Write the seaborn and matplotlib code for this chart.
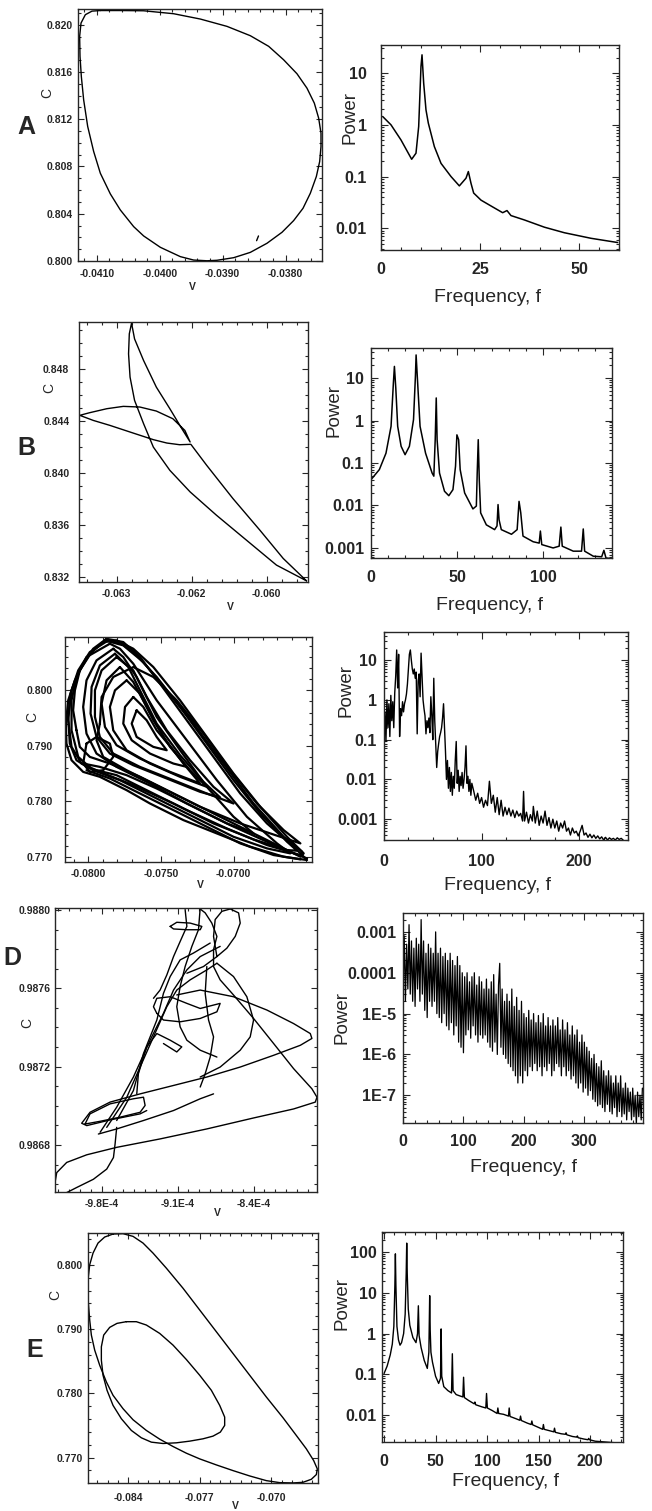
import numpy as np
import pandas as pd
import matplotlib
matplotlib.use("Agg")
import matplotlib.pyplot as plt
import matplotlib.ticker as mt
import seaborn as sns

sns.set_style("ticks")
plt.rcParams["font.family"] = ["Liberation Sans", "DejaVu Sans"]

# ---------------- DATA ----------------
# Row A : phase portrait
A_V = [-0.040945, -0.040627, -0.040256, -0.039779, -0.039355, -0.038931, -0.038560, -0.038268,
       -0.038030, -0.037818, -0.037659, -0.037542, -0.037473, -0.037436, -0.037436, -0.037457,
       -0.037510, -0.037606, -0.037722, -0.037871, -0.038056, -0.038295, -0.038560, -0.038825,
       -0.039090, -0.039249, -0.039461, -0.039673, -0.039991, -0.040256, -0.040415, -0.040627,
       -0.040786, -0.040945, -0.041051, -0.041146, -0.041210, -0.041247, -0.041268, -0.041274,
       -0.041252, -0.041183, -0.041077, -0.040945]
A_C = [0.82120, 0.82120, 0.82118, 0.82093, 0.82048, 0.81986, 0.81907, 0.81817,
       0.81703, 0.81585, 0.81463, 0.81336, 0.81209, 0.81082, 0.80969, 0.80842,
       0.80715, 0.80573, 0.80446, 0.80342, 0.80243, 0.80150, 0.80073, 0.80028,
       0.80006, 0.80002, 0.80008, 0.80037, 0.80116, 0.80212, 0.80291, 0.80432,
       0.80568, 0.80743, 0.80927, 0.81139, 0.81364, 0.81562, 0.81732, 0.81901,
       0.82014, 0.82085, 0.82115, 0.82120]
A_mark_V = [-0.03846, -0.03843]
A_mark_C = [0.80172, 0.80212]
# Row A : spectrum
A_f = [0.42, 2.52, 5.04, 7.73, 8.82, 9.50, 10.08, 10.34, 10.76, 11.34, 11.93, 13.45, 15.13, 17.65,
       19.75, 21.43, 22.02, 22.69, 23.36, 25.21, 27.73, 30.67, 31.76, 32.77, 36.13, 41.18, 46.22,
       52.94, 59.66]
A_P = [1.45, 1.0, 0.51, 0.216, 0.283, 0.93, 13.5, 22.6, 6.4, 1.95, 1.08, 0.38, 0.18, 0.10,
       0.066, 0.093, 0.125, 0.074, 0.048, 0.035, 0.027, 0.020, 0.022, 0.0176, 0.0145, 0.0105, 0.0082,
       0.0064, 0.0053]

# Row B : phase portrait
B_V = [-0.06047, -0.06078, -0.06109, -0.06145, -0.06180, -0.06201,
       -0.06216, -0.06233, -0.06251, -0.06278, -0.06309, -0.06331, -0.06349,
       -0.06336, -0.06313, -0.06291, -0.06269, -0.06247, -0.06225, -0.06209, -0.06202,
       -0.06213, -0.06229, -0.06247, -0.06264, -0.06276, -0.06280,
       -0.06283, -0.06284, -0.06282, -0.06276, -0.06264, -0.06251, -0.06229, -0.06202,
       -0.06167, -0.06127, -0.06087, -0.06047]
B_C = [0.83169, 0.83341, 0.83558, 0.83802, 0.84058, 0.84219,
       0.84216, 0.84229, 0.84255, 0.84306, 0.84365, 0.84403, 0.84442,
       0.84462, 0.84493, 0.84511, 0.84506, 0.84475, 0.84416, 0.84326, 0.84237,
       0.84339, 0.84493, 0.84659, 0.84864, 0.85030, 0.85151,
       0.85069, 0.84915, 0.84736, 0.84557, 0.84378, 0.84198, 0.84019, 0.83853,
       0.83674, 0.83482, 0.83290, 0.83169]
# Row B : spectrum
B_f = [0, 4.85, 8.7, 11.65, 13.0, 13.6, 14.4, 15.5, 17.5, 19.8, 22.3, 24.7, 25.8, 26.2, 27.0, 28.5,
       31.7, 35.5, 36.5, 37.3, 37.9, 38.4, 39.8, 42.7, 45.2, 47.6, 49.1, 49.9, 50.9, 51.8, 54.4, 59.2,
       61.2, 61.7, 62.3, 62.9, 63.7, 67.0, 71.8, 73.2, 73.8, 74.4, 75.7, 81.6, 84.9, 86.0, 87.0, 88.3,
       94.2, 97.7, 98.4, 99.2, 105.8, 109.3, 110.3, 111.1, 117.5, 122.3, 123.3, 124.1, 129.1, 134.0,
       135.3, 136.5, 139.8]
B_P = [0.0405, 0.070, 0.17, 0.73, 7.6, 18.8, 5.8, 0.73, 0.247, 0.157, 0.247, 1.05, 11, 35, 9.1, 0.73,
       0.17, 0.058, 0.049, 0.354, 3.4, 0.354, 0.058, 0.0216, 0.017, 0.0236, 0.084, 0.46, 0.354, 0.070,
       0.0197, 0.0083, 0.0097, 0.058, 0.354, 0.0405, 0.0067, 0.0035, 0.0027, 0.0033, 0.0105, 0.0046,
       0.0027, 0.0021, 0.0027, 0.0125, 0.0067, 0.0019, 0.0014, 0.0013, 0.0025, 0.0012, 0.0010, 0.0011,
       0.0031, 0.0011, 0.00084, 0.00084, 0.0028, 0.00084, 0.00064, 0.00062, 0.00088, 0.00058, 0.00056]

# Row C : chaotic attractor (loops)
C_loops_V = [
    [-0.07874, -0.07966, -0.08035, -0.08092, -0.08138, -0.08154, -0.08150, -0.08115, -0.08035, -0.07920,
     -0.07736, -0.07575, -0.07345, -0.07115, -0.06885, -0.06655, -0.06494, -0.06586, -0.06770, -0.06954,
     -0.07138, -0.07322, -0.07506, -0.07644, -0.07759, -0.07874],
    [-0.07851, -0.08012, -0.08081, -0.08115, -0.08115, -0.08069, -0.07966, -0.07782, -0.07552, -0.07276,
     -0.07000, -0.06770, -0.06609, -0.06701, -0.06908, -0.07115, -0.07322, -0.07529, -0.07690, -0.07782,
     -0.07851],
    [-0.07828, -0.07943, -0.08012, -0.08035, -0.08012, -0.07943, -0.07805, -0.07575, -0.07322, -0.07046,
     -0.06862, -0.07000, -0.07184, -0.07368, -0.07529, -0.07667, -0.07759, -0.07828],
    [-0.07805, -0.07908, -0.07954, -0.07954, -0.07920, -0.07828, -0.07644, -0.07414, -0.07184, -0.07000,
     -0.07138, -0.07299, -0.07460, -0.07598, -0.07690, -0.07805],
    [-0.07736, -0.07816, -0.07851, -0.07828, -0.07736, -0.07575, -0.07368, -0.07184, -0.07299, -0.07437,
     -0.07552, -0.07644, -0.07736],
    [-0.07690, -0.07747, -0.07759, -0.07701, -0.07575, -0.07414, -0.07322, -0.07414, -0.07529, -0.07621,
     -0.07690],
    [-0.07667, -0.07701, -0.07667, -0.07552, -0.07460, -0.07529, -0.07598, -0.07667],
    [-0.08081, -0.08058, -0.07989, -0.07851, -0.07644, -0.07414, -0.07184, -0.06954, -0.06724, -0.06540,
     -0.06517, -0.06632, -0.06816, -0.07000, -0.07184, -0.07368, -0.07552, -0.07690, -0.07805, -0.07897,
     -0.07989, -0.08058, -0.08092, -0.08104, -0.08081],
    [-0.07920, -0.07943, -0.07897, -0.07736, -0.07506, -0.07230, -0.06954, -0.06678, -0.06540, -0.06655,
     -0.06839, -0.07023, -0.07207, -0.07391, -0.07552, -0.07690, -0.07828, -0.07908, -0.07920],
    [-0.08012, -0.07943, -0.07851, -0.07828, -0.07897, -0.07989, -0.08035, -0.08012],
    [-0.07885, -0.07977, -0.08058, -0.08115, -0.08138, -0.08127, -0.08081, -0.07989, -0.07805, -0.07598,
     -0.07322, -0.07046, -0.06770, -0.06540, -0.06528, -0.06655, -0.06862, -0.07069, -0.07276, -0.07460,
     -0.07621, -0.07759, -0.07885],
    [-0.07862, -0.07989, -0.08069, -0.08122, -0.08138, -0.08115, -0.08046, -0.07920, -0.07690, -0.07414,
     -0.07138, -0.06862, -0.06632, -0.06563, -0.06632, -0.06816, -0.07000, -0.07184, -0.07368, -0.07529,
     -0.07667, -0.07770, -0.07862],
    [-0.07816, -0.07920, -0.07977, -0.07984, -0.07943, -0.07851, -0.07690, -0.07460, -0.07230, -0.07092,
     -0.07207, -0.07368, -0.07529, -0.07644, -0.07724, -0.07816],
    [-0.07782, -0.07874, -0.07908, -0.07885, -0.07805, -0.07644, -0.07437, -0.07230, -0.07345, -0.07483,
     -0.07598, -0.07690, -0.07782],
    [-0.08035, -0.07920, -0.07736, -0.07529, -0.07276, -0.07023, -0.06770, -0.06586, -0.06494],
    [-0.08012, -0.07851, -0.07644, -0.07414, -0.07184, -0.06954, -0.06724, -0.06540],
]
C_loops_C = [
    [0.80928, 0.80749, 0.80479, 0.80180, 0.79820, 0.79401, 0.79042, 0.78742, 0.78532, 0.78443,
     0.78203, 0.77963, 0.77664, 0.77424, 0.77185, 0.77005, 0.76945, 0.77185, 0.77604, 0.78143,
     0.78802, 0.79461, 0.80120, 0.80599, 0.80869, 0.80928],
    [0.80839, 0.80599, 0.80240, 0.79820, 0.79281, 0.78802, 0.78562, 0.78383, 0.78083, 0.77724,
     0.77364, 0.77155, 0.77065, 0.77245, 0.77724, 0.78383, 0.79102, 0.79820, 0.80479, 0.80749,
     0.80839],
    [0.80749, 0.80539, 0.80180, 0.79701, 0.79221, 0.78862, 0.78622, 0.78323, 0.77963, 0.77604,
     0.77424, 0.77724, 0.78263, 0.78922, 0.79521, 0.80240, 0.80599, 0.80749],
    [0.80599, 0.80359, 0.80000, 0.79521, 0.79161, 0.78862, 0.78622, 0.78383, 0.78143, 0.77963,
     0.78263, 0.78742, 0.79281, 0.79880, 0.80359, 0.80599],
    [0.80180, 0.80000, 0.79701, 0.79281, 0.78922, 0.78682, 0.78443, 0.78263, 0.78562, 0.78982,
     0.79461, 0.79940, 0.80180],
    [0.79880, 0.79701, 0.79401, 0.79102, 0.78862, 0.78682, 0.78622, 0.78922, 0.79281, 0.79701,
     0.79880],
    [0.79641, 0.79401, 0.79161, 0.78982, 0.78922, 0.79161, 0.79461, 0.79641],
    [0.79281, 0.78982, 0.78802, 0.78682, 0.78443, 0.78143, 0.77844, 0.77544, 0.77245, 0.77005,
     0.77065, 0.77364, 0.77904, 0.78502, 0.79161, 0.79820, 0.80419, 0.80749, 0.80899, 0.80869,
     0.80659, 0.80359, 0.80000, 0.79641, 0.79281],
    [0.79401, 0.79102, 0.78802, 0.78562, 0.78263, 0.77904, 0.77604, 0.77364, 0.77245, 0.77484,
     0.77963, 0.78562, 0.79221, 0.79820, 0.80240, 0.80419, 0.80240, 0.79880, 0.79401],
    [0.79042, 0.79161, 0.79042, 0.78802, 0.78562, 0.78532, 0.78682, 0.79042],
    [0.80899, 0.80689, 0.80359, 0.80000, 0.79521, 0.79042, 0.78742, 0.78592, 0.78473, 0.78203,
     0.77844, 0.77514, 0.77215, 0.77035, 0.77095, 0.77364, 0.77963, 0.78682, 0.79401, 0.80000,
     0.80509, 0.80809, 0.80899],
    [0.80899, 0.80689, 0.80359, 0.79940, 0.79461, 0.78982, 0.78682, 0.78532, 0.78293, 0.77963,
     0.77604, 0.77316, 0.77125, 0.77113, 0.77275, 0.77784, 0.78383, 0.79042, 0.79701, 0.80240,
     0.80629, 0.80839, 0.80899],
    [0.80659, 0.80449, 0.80060, 0.79581, 0.79161, 0.78862, 0.78652, 0.78413, 0.78173, 0.78071,
     0.78353, 0.78832, 0.79401, 0.80000, 0.80419, 0.80659],
    [0.80419, 0.80180, 0.79760, 0.79341, 0.79012, 0.78772, 0.78532, 0.78323, 0.78682, 0.79161,
     0.79701, 0.80150, 0.80419],
    [0.78682, 0.78622, 0.78473, 0.78233, 0.77904, 0.77574, 0.77275, 0.77065, 0.76975],
    [0.78562, 0.78413, 0.78143, 0.77844, 0.77544, 0.77245, 0.77035, 0.76957],
]
# Row C : spectrum
C_f = [0, 1, 2, 3, 4, 5, 6, 7, 8, 9, 10, 11, 12, 13, 14, 15, 16, 17, 18, 19, 20, 21, 22, 23, 24, 25,
       26, 27, 28, 29, 30, 31, 32, 33, 34, 35, 36, 37, 38, 39, 40, 41, 42, 43, 44, 45, 46, 47, 48, 49,
       50, 51, 52, 53, 54, 55, 56, 57, 58, 59, 60, 61, 62, 63, 64, 65, 66, 67, 68, 69, 70, 71, 72, 73,
       74, 75, 76, 77, 78, 79, 80, 81, 82, 83, 84, 85, 86, 87, 88, 89, 90, 92, 94, 96, 98, 100, 102,
       104, 106, 108, 110, 112, 114, 116, 118, 120, 122, 124, 126, 128, 130, 132, 134, 136, 138, 140,
       142, 143, 144, 146, 148, 150, 152, 153, 155, 157, 159, 161, 163, 165, 167, 169, 171, 173, 175,
       177, 179, 181, 183, 185, 187, 189, 191, 193, 195, 197, 199, 201, 203, 205, 207, 209, 211, 213,
       215, 217, 219, 221, 223, 225, 227, 229, 231, 233, 235, 237, 239, 241, 243, 245]
C_P = [0.15, 0.5, 0.09, 1.0, 0.2, 0.8, 0.12, 1.3, 0.3, 0.9, 0.2, 1.5, 4, 18, 2, 14, 0.12, 0.6, 0.4,
       0.9, 0.5, 0.8, 1.0, 1.4, 2.5, 6, 14, 18, 10, 6, 4.5, 6, 3.5, 5, 0.14, 3, 4.5, 1.2, 15, 4, 1.0,
       0.6, 0.4, 0.14, 0.3, 0.2, 0.35, 0.15, 1.2, 0.4, 0.1, 3.5, 0.3, 0.08, 0.02, 0.05, 0.08, 0.12,
       0.15, 0.2, 0.35, 0.8, 0.2, 0.05, 0.01, 0.03, 0.006, 0.02, 0.005, 0.015, 0.004, 0.012, 0.006,
       0.03, 0.09, 0.008, 0.017, 0.005, 0.012, 0.007, 0.015, 0.006, 0.01, 0.02, 0.07, 0.008, 0.012,
       0.005, 0.01, 0.004, 0.008, 0.005, 0.003, 0.0045, 0.0025, 0.0035, 0.002, 0.003, 0.0022, 0.009,
       0.0025, 0.004, 0.0015, 0.0035, 0.0013, 0.003, 0.0012, 0.002, 0.0013, 0.0019, 0.0012, 0.0017,
       0.0011, 0.0016, 0.0012, 0.0014, 0.0009, 0.005, 0.0009, 0.0015, 0.0008, 0.0013, 0.0009, 0.0021,
       0.0008, 0.0016, 0.0007, 0.0012, 0.0008, 0.0016, 0.0007, 0.0011, 0.0006, 0.001, 0.0006, 0.0009,
       0.0005, 0.0008, 0.0006, 0.0009, 0.0005, 0.0006, 0.0004, 0.0006, 0.00045, 0.0005, 0.00038,
       0.0005, 0.0007, 0.0004, 0.00045, 0.00035, 0.00042, 0.00034, 0.0004, 0.00033, 0.00038, 0.00032,
       0.00036, 0.0003, 0.00035, 0.0003, 0.00034, 0.00031, 0.00033, 0.0003, 0.00034, 0.00031, 0.00033,
       0.0003]

# Row D : phase portrait strokes (V, C)
D_strokes_V = [
    [-9.662e-4, -9.677e-4, -9.692e-4, -9.754e-4, -9.877e-4, -10.031e-4, -10.123e-4],
    [-10.231e-4, -10.215e-4, -10.123e-4, -9.938e-4, -9.662e-4, -9.262e-4, -8.831e-4, -8.400e-4, -8.031e-4,
     -7.831e-4, -7.815e-4, -7.862e-4, -8.031e-4, -8.215e-4, -8.400e-4, -8.585e-4, -8.708e-4, -8.769e-4,
     -8.769e-4, -8.738e-4, -8.785e-4, -8.846e-4, -8.892e-4],
    [-9.108e-4, -8.892e-4, -8.585e-4, -8.277e-4, -8.031e-4, -7.877e-4, -7.862e-4, -7.969e-4, -8.215e-4,
     -8.523e-4, -8.831e-4, -9.138e-4, -9.446e-4, -9.723e-4, -9.908e-4, -9.985e-4, -9.938e-4, -9.723e-4,
     -9.446e-4, -9.385e-4],
    [-9.954e-4, -9.908e-4, -9.723e-4, -9.508e-4, -9.415e-4, -9.400e-4, -9.446e-4, -9.631e-4, -9.815e-4,
     -9.954e-4],
    [-9.831e-4, -9.662e-4, -9.415e-4, -9.138e-4, -8.892e-4, -8.769e-4],
    [-9.815e-4, -9.662e-4, -9.508e-4, -9.354e-4, -9.231e-4, -9.138e-4, -9.015e-4, -8.892e-4, -8.769e-4,
     -8.708e-4],
    [-9.754e-4, -9.569e-4, -9.446e-4, -9.323e-4, -9.200e-4, -9.108e-4, -8.985e-4, -8.831e-4, -8.738e-4],
    [-9.662e-4, -9.508e-4, -9.415e-4, -9.292e-4, -9.231e-4, -9.169e-4, -9.077e-4, -8.954e-4, -8.800e-4],
    [-9.477e-4, -9.462e-4, -9.385e-4, -9.292e-4, -9.169e-4, -9.062e-4, -9.108e-4, -9.231e-4],
    [-9.169e-4, -9.108e-4, -8.985e-4, -8.877e-4, -8.892e-4, -9.015e-4, -9.138e-4, -9.169e-4],
    [-8.738e-4, -8.769e-4, -8.754e-4, -8.692e-4, -8.615e-4, -8.538e-4, -8.523e-4, -8.569e-4, -8.646e-4,
     -8.738e-4, -8.862e-4, -9.015e-4],
    [-9.292e-4, -9.323e-4, -9.292e-4, -9.169e-4, -9.015e-4, -8.892e-4, -8.708e-4, -8.738e-4, -8.892e-4,
     -9.077e-4, -9.231e-4, -9.292e-4],
    [-9.031e-4, -9.015e-4, -9.077e-4, -9.138e-4, -9.200e-4, -9.262e-4, -9.323e-4],
    [-8.892e-4, -8.908e-4, -8.969e-4, -9.031e-4, -9.077e-4, -9.108e-4, -9.077e-4, -9.015e-4, -8.892e-4,
     -8.738e-4],
    [-8.831e-4, -8.846e-4, -8.815e-4, -8.769e-4, -8.800e-4, -8.846e-4, -8.892e-4],
    [-8.738e-4, -8.585e-4, -8.462e-4, -8.400e-4, -8.431e-4, -8.523e-4, -8.708e-4, -8.892e-4],
]
D_strokes_C = [
    [0.986890, 0.986805, 0.986736, 0.986677, 0.986625, 0.986583, 0.986557],
    [0.986608, 0.986659, 0.986711, 0.986750, 0.986788, 0.986831, 0.986882, 0.986938, 0.986984,
     0.987019, 0.987044, 0.987087, 0.987190, 0.987318, 0.987446, 0.987566, 0.987643, 0.987711,
     0.987797, 0.987865, 0.987933, 0.987985, 0.988005],
    [0.987566, 0.987591, 0.987557, 0.987489, 0.987420, 0.987369, 0.987344, 0.987309, 0.987258,
     0.987198, 0.987147, 0.987104, 0.987061, 0.987019, 0.986967, 0.986911, 0.986899, 0.986928,
     0.986959, 0.986976],
    [0.986907, 0.986959, 0.987010, 0.987036, 0.987044, 0.987002, 0.986967, 0.986942, 0.986921,
     0.986907],
    [0.986856, 0.986882, 0.986925, 0.986976, 0.987036, 0.987061],
    [0.986865, 0.986993, 0.987147, 0.987335, 0.987472, 0.987591, 0.987694, 0.987762, 0.987797,
     0.987814],
    [0.986890, 0.987044, 0.987198, 0.987352, 0.987506, 0.987591, 0.987643, 0.987694, 0.987728],
    [0.986925, 0.987078, 0.987267, 0.987438, 0.987574, 0.987660, 0.987745, 0.987780, 0.987831],
    [0.987061, 0.987164, 0.987301, 0.987369, 0.987335, 0.987301, 0.987275, 0.987318],
    [0.987916, 0.987937, 0.987933, 0.987916, 0.987899, 0.987899, 0.987903, 0.987916],
    [0.987762, 0.987865, 0.987951, 0.987993, 0.988005, 0.987985, 0.987933, 0.987865, 0.987805,
     0.987762, 0.987711, 0.987677],
    [0.987472, 0.987506, 0.987549, 0.987557, 0.987523, 0.987497, 0.987523, 0.987480, 0.987446,
     0.987429, 0.987438, 0.987472],
    [0.988002, 0.987916, 0.987839, 0.987762, 0.987668, 0.987591, 0.987549],
    [0.988010, 0.987899, 0.987814, 0.987711, 0.987609, 0.987506, 0.987403, 0.987335, 0.987284,
     0.987249],
    [0.987711, 0.987574, 0.987438, 0.987352, 0.987249, 0.987164, 0.987096],
    [0.987728, 0.987660, 0.987557, 0.987438, 0.987352, 0.987284, 0.987198, 0.987147],
]
# Row D : spectrum (sampled every 2 frequency units)
D_f = list(range(0, 398, 2))
D_P = [3e-5, 8e-4, 2e-5, 5e-4, 4e-5, 1.5e-3, 3e-5, 6e-4, 2e-5, 4e-4, 1.5e-5, 7e-4, 4e-5, 5e-4, 2e-5,
       2e-3, 3e-5, 6e-4, 1.2e-5, 3e-4, 8e-6, 5e-4, 2e-5, 4e-4, 1.5e-5, 3e-4, 2e-5, 1e-3, 1e-5, 3e-4,
       8e-6, 4e-4, 6e-6, 2.5e-4, 1e-5, 3e-4, 5e-6, 2e-4, 4e-6, 3e-4, 6e-6, 2e-4, 3e-6, 1.5e-4, 5e-6,
       2.5e-4, 2e-6, 1.5e-4, 1.5e-6, 1e-4, 1.1e-6, 8e-5, 3e-6, 1e-4, 4e-6, 6e-5, 2.5e-6, 8e-5, 5e-6,
       1e-4, 3e-6, 5e-5, 2e-6, 8e-5, 3e-6, 6e-5, 2.5e-6, 4e-5, 3e-6, 7e-5, 2e-6, 4e-5, 1.5e-6, 6e-5,
       1.2e-6, 9e-5, 2e-6, 3e-5, 1e-6, 5e-5, 1.7e-4, 1.5e-6, 4e-5, 1e-6, 2e-5, 8e-7, 3e-5, 6e-7, 2e-5,
       5e-7, 4e-5, 4e-7, 1.5e-5, 3e-7, 2.5e-5, 2e-7, 1.2e-5, 3e-7, 2e-5, 2e-7, 1e-5, 4e-7, 8e-6, 3e-7,
       1.2e-5, 5e-7, 7e-6, 4e-7, 1e-5, 6e-7, 6e-6, 4e-7, 9e-6, 5e-7, 6e-6, 3e-7, 1e-5, 5e-7, 5e-6,
       4e-7, 8e-6, 6e-7, 5e-6, 3e-7, 7e-6, 4e-7, 5e-6, 6e-7, 8e-6, 5e-7, 4e-6, 3e-7, 7e-6, 5e-7, 4e-6,
       3e-7, 6e-6, 4e-7, 3e-6, 2.5e-7, 5e-6, 3e-7, 3e-6, 2e-7, 4e-6, 1.5e-7, 2e-6, 2e-7, 3e-6, 1.2e-7,
       2e-6, 1.5e-7, 1.5e-6, 1e-7, 1.2e-6, 1.3e-7, 8e-7, 8e-8, 1e-6, 7e-8, 6e-7, 5.5e-8, 5e-7, 6e-8,
       7e-7, 5e-8, 4e-7, 4e-8, 3e-7, 6e-8, 4e-7, 4e-8, 3e-7, 3.5e-8, 2e-7, 5e-8, 3e-7, 3e-8, 2e-7,
       4e-8, 3e-7, 3e-8, 1.5e-7, 3.5e-8, 2e-7, 2.5e-8, 1.5e-7, 4e-8, 1.2e-7, 2.5e-8, 1.5e-7, 3e-8,
       1e-7, 2e-8, 1.2e-7, 3e-8, 1e-7, 2.5e-8, 1.5e-7]

# Row E : period-2 orbit
E_outer_V = [-0.085465, -0.084488, -0.083512, -0.082535, -0.081558, -0.080256, -0.078628, -0.077000,
             -0.075372, -0.073744, -0.072116, -0.070488, -0.068860, -0.067557, -0.066580, -0.065864,
             -0.065506, -0.065604, -0.066092, -0.066906, -0.067883, -0.069185, -0.070488, -0.072116,
             -0.073744, -0.075372, -0.077000, -0.078302, -0.079604, -0.080907, -0.082209, -0.083512,
             -0.084488, -0.085465, -0.086116, -0.086768, -0.087256, -0.087582, -0.087744, -0.087875,
             -0.087907, -0.087875, -0.087744, -0.087419, -0.086930, -0.086279, -0.085465]
E_outer_C = [0.804791, 0.804844, 0.804427, 0.803385, 0.801823, 0.799479, 0.796354, 0.792969,
             0.789584, 0.786199, 0.782814, 0.779428, 0.776199, 0.773439, 0.771356, 0.769533,
             0.768231, 0.767346, 0.766617, 0.766148, 0.766050, 0.766096, 0.766408, 0.767138,
             0.767971, 0.768856, 0.769794, 0.770679, 0.771721, 0.772866, 0.774220, 0.775887,
             0.777606, 0.779689, 0.781772, 0.784376, 0.786720, 0.789063, 0.791407, 0.794011,
             0.796094, 0.798177, 0.800000, 0.801823, 0.803385, 0.804323, 0.804791]
E_inner_V = [-0.084163, -0.083186, -0.082209, -0.080907, -0.079604, -0.078302, -0.077000, -0.075860,
             -0.075046, -0.074558, -0.074558, -0.074981, -0.075697, -0.076674, -0.077976, -0.079279,
             -0.080581, -0.081721, -0.082698, -0.083674, -0.084651, -0.085465, -0.086051, -0.086442,
             -0.086605, -0.086605, -0.086377, -0.085791, -0.085074, -0.084163]
E_inner_C = [0.791146, 0.791146, 0.790626, 0.789324, 0.787501, 0.785261, 0.782814, 0.780470,
             0.778126, 0.776304, 0.775002, 0.773960, 0.773335, 0.772918, 0.772554, 0.772293,
             0.772189, 0.772398, 0.773075, 0.774220, 0.776043, 0.778126, 0.780470, 0.782814,
             0.785157, 0.787240, 0.789063, 0.790261, 0.790886, 0.791146]
# Row E : spectrum
E_f = [0, 3, 6, 8, 9.5, 10.5, 11, 11.5, 12.5, 14, 15.5, 17, 19, 20.5, 21.5, 22, 22.5, 23.5, 25, 28, 31,
       32.5, 33.3, 34, 36, 39, 42, 43.5, 44.3, 44.8, 45.5, 47, 50, 53, 54.8, 55.4, 56, 58, 62, 65.5,
       66.3, 67, 70, 73, 76.5, 77.2, 78, 82, 87.5, 88.2, 89, 95, 98.8, 99.5, 100.3, 105, 109.8, 110.5,
       111.3, 116, 120.8, 121.5, 122.3, 128, 131.8, 132.5, 133.3, 139, 142.8, 143.5, 144.3, 150, 154,
       154.7, 155.5, 160, 164.8, 165.5, 166.3, 172, 176, 176.7, 177.5, 183, 187, 187.7, 188.5, 194,
       198, 198.7, 199.5, 205, 215, 225, 232]
E_P = [0.105, 0.16, 0.3, 0.55, 1.5, 15, 90, 15, 1.5, 0.7, 0.52, 0.6, 1.0, 3, 30, 165, 30, 4, 1.6, 0.8,
       0.6, 1.0, 4.8, 0.9, 0.45, 0.22, 0.14, 0.35, 8.5, 1.2, 0.35, 0.2, 0.09, 0.06, 0.08, 1.3, 0.09,
       0.05, 0.04, 0.035, 0.32, 0.04, 0.032, 0.03, 0.028, 0.085, 0.027, 0.023, 0.019, 0.021, 0.018,
       0.016, 0.015, 0.034, 0.015, 0.013, 0.011, 0.015, 0.011, 0.0105, 0.0095, 0.015, 0.0093, 0.0082,
       0.0075, 0.0095, 0.0074, 0.0064, 0.0059, 0.0072, 0.0058, 0.0050, 0.0045, 0.0059, 0.0045,
       0.0042, 0.0039, 0.0048, 0.0038, 0.0035, 0.0034, 0.0037, 0.0033, 0.0030, 0.0029, 0.0031,
       0.0028, 0.0026, 0.0025, 0.0027, 0.0025, 0.0023, 0.0022, 0.0021, 0.0020]

# ---------------- FIGURE ----------------
W, H = 652, 1511
fig = plt.figure(figsize=(W / 100, H / 100), dpi=100)


def add_ax(x0, y0, x1, y1):
    return fig.add_axes([x0 / W, 1 - y1 / H, (x1 - x0) / W, (y1 - y0) / H])


def draw_strokes(ax, xs, ys, lw):
    parts = []
    for i, (x, y) in enumerate(zip(xs, ys)):
        parts.append(pd.DataFrame({"x": x, "y": y, "seg": i}))
    df = pd.concat(parts, ignore_index=True)
    sns.lineplot(data=df, x="x", y="y", units="seg", estimator=None, sort=False,
                 color="black", lw=lw, ax=ax, legend=False)
    ax.set_xlabel("")
    ax.set_ylabel("")


def style_phase(ax, xlim, ylim, xt, xtl, yt, ytl, xminor, yminor, xpad, ypad):
    ax.set_xlim(*xlim)
    ax.set_ylim(*ylim)
    ax.xaxis.set_major_locator(mt.FixedLocator(xt))
    ax.xaxis.set_major_formatter(mt.FixedFormatter(xtl))
    ax.yaxis.set_major_locator(mt.FixedLocator(yt))
    ax.yaxis.set_major_formatter(mt.FixedFormatter(ytl))
    ax.xaxis.set_minor_locator(mt.MultipleLocator(xminor))
    ax.yaxis.set_minor_locator(mt.MultipleLocator(yminor))
    ax.tick_params(which="both", direction="in", top=True, right=True, width=0.8)
    ax.tick_params(which="major", length=4)
    ax.tick_params(which="minor", length=2)
    ax.tick_params(axis="x", labelsize=7.5, pad=xpad)
    ax.tick_params(axis="y", labelsize=7.5, pad=ypad)
    for lab in ax.get_xticklabels() + ax.get_yticklabels():
        lab.set_fontweight("bold")
    for s in ax.spines.values():
        s.set_linewidth(1.0)


def draw_spec(ax, f, p, lw):
    sns.lineplot(x=f, y=p, sort=False, estimator=None, color="black", lw=lw, ax=ax)
    ax.set_xlabel("")
    ax.set_ylabel("")


def style_spec(ax, xlim, ylim, xt, yt, ytl, xminor, xpad, ypad):
    ax.set_yscale("log")
    ax.set_xlim(*xlim)
    ax.set_ylim(*ylim)
    ax.xaxis.set_major_locator(mt.FixedLocator(xt))
    ax.xaxis.set_major_formatter(mt.FixedFormatter([str(v) for v in xt]))
    ax.xaxis.set_minor_locator(mt.MultipleLocator(xminor))
    ax.yaxis.set_major_locator(mt.FixedLocator(yt))
    ax.yaxis.set_major_formatter(mt.FixedFormatter(ytl))
    ax.yaxis.set_minor_locator(mt.LogLocator(base=10, subs=np.arange(2, 10) * 1.0, numticks=30))
    ax.yaxis.set_minor_formatter(mt.NullFormatter())
    ax.tick_params(which="both", direction="in", top=True, right=True, width=0.8)
    ax.tick_params(which="major", length=5)
    ax.tick_params(which="minor", length=2.5)
    ax.tick_params(axis="x", labelsize=11.5, pad=xpad)
    ax.tick_params(axis="y", labelsize=11.5, pad=ypad)
    for lab in ax.get_xticklabels() + ax.get_yticklabels():
        lab.set_fontweight("bold")
    for s in ax.spines.values():
        s.set_linewidth(1.0)


# ---- Row A ----
axA = add_ax(78, 9, 322, 261)
draw_strokes(axA, [A_V, A_mark_V], [A_C, A_mark_C], 1.0)
style_phase(axA, (-0.04130, -0.03742), (0.800, 0.82133),
            [-0.0410, -0.0400, -0.0390, -0.0380], ["-0.0410", "-0.0400", "-0.0390", "-0.0380"],
            [0.800, 0.804, 0.808, 0.812, 0.816, 0.820], ["0.800", "0.804", "0.808", "0.812", "0.816", "0.820"],
            0.0002, 0.001, 6, 4)
axAs = add_ax(381, 45, 619, 250)
draw_spec(axAs, A_f, A_P, 1.1)
style_spec(axAs, (0, 60), (0.0038, 35), [0, 25, 50], [0.01, 0.1, 1, 10], ["0.01", "0.1", "1", "10"], 5, 9, 10)

# ---- Row B ----
axB = add_ax(79, 322, 308, 582)
draw_strokes(axB, [B_V], [B_C], 1.0)
style_phase(axB, (-0.06350, -0.06045), (0.8316, 0.8516),
            [-0.063, -0.062, -0.061], ["-0.063", "-0.062", "-0.060"],
            [0.832, 0.836, 0.840, 0.844, 0.848], ["0.832", "0.836", "0.840", "0.844", "0.848"],
            0.0002, 0.001, 5, 7)
axBs = add_ax(371, 348, 612, 558)
draw_spec(axBs, B_f, B_P, 1.1)
style_spec(axBs, (0, 140), (5.8e-4, 51), [0, 50, 100], [0.001, 0.01, 0.1, 1, 10],
           ["0.001", "0.01", "0.1", "1", "10"], 10, 9, 5)

# ---- Row C ----
axC = add_ax(65, 637, 312, 862)
draw_strokes(axC, C_loops_V, C_loops_C, 1.6)
style_phase(axC, (-0.0816, -0.0646), (0.7691, 0.8096),
            [-0.0800, -0.0750, -0.0700], ["-0.0800", "-0.0750", "-0.0700"],
            [0.770, 0.780, 0.790, 0.800], ["0.770", "0.780", "0.790", "0.800"],
            0.001, 0.002, 5, 9)
axCs = add_ax(384, 632, 628, 840)
draw_spec(axCs, C_f, C_P, 1.0)
style_spec(axCs, (0, 250), (3.0e-4, 51), [0, 100, 200], [0.001, 0.01, 0.1, 1, 10],
           ["0.001", "0.01", "0.1", "1", "10"], 25, 10, 5)

# ---- Row D ----
axD = add_ax(55, 908, 317, 1192)
draw_strokes(axD, D_strokes_V, D_strokes_C, 1.0)
style_phase(axD, (-10.231e-4, -7.815e-4), (0.98656, 0.98801),
            [-9.8e-4, -9.1e-4, -8.4e-4], ["-9.8E-4", "-9.1E-4", "-8.4E-4"],
            [0.9868, 0.9872, 0.9876, 0.9880], ["0.9868", "0.9872", "0.9876", "0.9880"],
            0.1e-4, 0.0001, 5, 3)
axDs = add_ax(403, 913, 643, 1123)
draw_spec(axDs, D_f, D_P, 0.9)
style_spec(axDs, (0, 397), (2.1e-8, 0.0029), [0, 100, 200, 300], [1e-7, 1e-6, 1e-5, 1e-4, 1e-3],
           ["1E-7", "1E-6", "1E-5", "0.0001", "0.001"], 20, 8, 5)

# ---- Row E ----
axE = add_ax(88, 1233, 318, 1483)
draw_strokes(axE, [E_outer_V, E_inner_V], [E_outer_C, E_inner_C], 1.0)
style_phase(axE, (-0.08791, -0.06544), (0.76604, 0.80495),
            [-0.084, -0.077, -0.070], ["-0.084", "-0.077", "-0.070"],
            [0.770, 0.780, 0.790, 0.800], ["0.770", "0.780", "0.790", "0.800"],
            0.001, 0.002, 7, 4)
axEs = add_ax(382, 1232, 623, 1442)
draw_spec(axEs, E_f, E_P, 1.0)
style_spec(axEs, (-2, 232), (0.0022, 309), [0, 50, 100, 150, 200], [0.01, 0.1, 1, 10, 100],
           ["0.01", "0.1", "1", "10", "100"], 10, 9, 4)

# ---- texts ----
def ftext(x, y, s, **kw):
    fig.text(x / W, 1 - y / H, s, ha="center", va="center", **kw)

for (x, y, s) in [(26, 127, "A"), (26, 448, "B"), (12, 958, "D"), (35, 1350, "E")]:
    ftext(x, y, s, fontsize=18, fontweight="bold")

for (x, y) in [(47, 93), (49, 388), (32, 717), (27, 1023), (55, 1295)]:
    ftext(x, y, "C", fontsize=10, rotation=90)

for (x, y) in [(192, 287), (230, 607), (200, 885), (217, 1213), (235, 1506)]:
    ftext(x, y, "V", fontsize=7.5, fontweight="bold")

for (x, y) in [(350, 117), (334, 410), (346, 690), (342, 1017), (342, 1303)]:
    ftext(x, y, "Power", fontsize=13.5, rotation=90)

for (x, y) in [(488, 298), (490, 606), (498, 886), (523, 1168), (506, 1482)]:
    ftext(x, y, "Frequency, f", fontsize=14)

fig.savefig("out.png", dpi=100)
